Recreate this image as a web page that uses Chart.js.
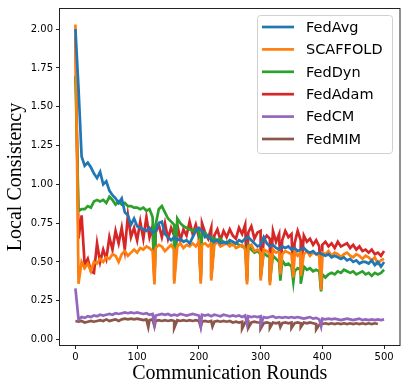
<!DOCTYPE html>
<html>
<head>
<meta charset="utf-8">
<script src="https://cdn.jsdelivr.net/npm/chart.js@4/dist/chart.umd.min.js"></script>
<style>
  body { margin: 0; background: #fff; }
  canvas { display: block; }
</style>
</head>
<body>
<canvas id="chart" width="407" height="392"></canvas>
<script>
// values read every 5 rounds (0..500), plus the narrow dips as [round, value]
let ROUND_STEP = 5
let X_TICKS = [0, 100, 200, 300, 400, 500]
let Y_TICKS = [0, 0.25, 0.5, 0.75, 1.0, 1.25, 1.5, 1.75, 2.0]

let fedAvg = [2.00, 1.62, 1.18, 1.12, 1.14, 1.11, 1.07, 1.04, 1.08, 1.00,
    1.02, 0.96, 0.93, 0.91, 0.88, 0.91, 0.82, 0.80, 0.74, 0.78,
    0.73, 0.72, 0.71, 0.70, 0.72, 0.69, 0.70, 0.75, 0.76, 0.68,
    0.66, 0.64, 0.66, 0.64, 0.65, 0.63, 0.64, 0.62, 0.66, 0.70,
    0.72, 0.70, 0.66, 0.67, 0.64, 0.63, 0.64, 0.62, 0.63, 0.62,
    0.64, 0.63, 0.62, 0.64, 0.63, 0.65, 0.66, 0.64, 0.62, 0.60,
    0.61, 0.66, 0.62, 0.60, 0.61, 0.59, 0.58, 0.60, 0.59, 0.60,
    0.58, 0.59, 0.57, 0.58, 0.59, 0.57, 0.56, 0.57, 0.55, 0.56,
    0.55, 0.54, 0.55, 0.53, 0.54, 0.53, 0.52, 0.53, 0.51, 0.52,
    0.50, 0.51, 0.49, 0.50, 0.50, 0.49, 0.51, 0.48, 0.50, 0.47, 0.50]
let fedAvgDips = []

let scaffold = [2.03, 0.36, 0.50, 0.46, 0.49, 0.44, 0.50, 0.49, 0.52, 0.50,
    0.53, 0.52, 0.55, 0.54, 0.50, 0.55, 0.57, 0.54, 0.56, 0.58,
    0.56, 0.59, 0.58, 0.60, 0.59, 0.57, 0.59, 0.61, 0.60, 0.57,
    0.59, 0.61, 0.58, 0.60, 0.62, 0.59, 0.61, 0.60, 0.62, 0.60,
    0.63, 0.61, 0.62, 0.60, 0.62, 0.61, 0.63, 0.60, 0.61, 0.62,
    0.60, 0.62, 0.59, 0.60, 0.61, 0.58, 0.60, 0.61, 0.57, 0.58,
    0.56, 0.58, 0.57, 0.55, 0.58, 0.56, 0.57, 0.55, 0.57, 0.56,
    0.55, 0.57, 0.54, 0.56, 0.55, 0.57, 0.54, 0.56, 0.55, 0.54,
    0.56, 0.55, 0.57, 0.54, 0.56, 0.55, 0.53, 0.55, 0.56, 0.54,
    0.53, 0.55, 0.54, 0.52, 0.54, 0.53, 0.51, 0.53, 0.49, 0.51, 0.52]
let scaffoldDips = [[128, 0.355], [160, 0.36], [203, 0.36], [220, 0.38], [278, 0.355],
    [300, 0.38], [315, 0.35], [332, 0.42], [353, 0.40], [365, 0.41], [398, 0.32]]

let fedDyn = [1.70, 0.83, 0.84, 0.84, 0.86, 0.85, 0.89, 0.90, 0.89, 0.90,
    0.88, 0.92, 0.90, 0.87, 0.89, 0.87, 0.88, 0.86, 0.86, 0.85,
    0.85, 0.84, 0.85, 0.83, 0.84, 0.79, 0.74, 0.84, 0.86, 0.82,
    0.78, 0.76, 0.74, 0.78, 0.75, 0.73, 0.72, 0.71, 0.70, 0.71,
    0.70, 0.68, 0.69, 0.66, 0.66, 0.65, 0.64, 0.65, 0.62, 0.63,
    0.62, 0.61, 0.62, 0.61, 0.60, 0.59, 0.61, 0.58, 0.56, 0.57,
    0.55, 0.56, 0.54, 0.53, 0.54, 0.52, 0.50, 0.51, 0.48, 0.49,
    0.47, 0.44, 0.46, 0.45, 0.47, 0.45, 0.46, 0.44, 0.45, 0.44,
    0.42, 0.40, 0.42, 0.43, 0.42, 0.44, 0.43, 0.45, 0.44, 0.43,
    0.44, 0.42, 0.43, 0.44, 0.42, 0.43, 0.41, 0.43, 0.42, 0.43, 0.45]
let fedDynDips = [[128, 0.40], [160, 0.40], [203, 0.40], [220, 0.40], [278, 0.40],
    [300, 0.40], [315, 0.38], [332, 0.38], [353, 0.37], [365, 0.36], [398, 0.31]]

let fedAdam = [1.95, 0.65, 0.80, 0.48, 0.52, 0.44, 0.43, 0.62, 0.50, 0.58,
    0.52, 0.66, 0.58, 0.70, 0.62, 0.72, 0.58, 0.80, 0.66, 0.72,
    0.64, 0.76, 0.65, 0.79, 0.66, 0.73, 0.69, 0.74, 0.66, 0.75,
    0.65, 0.72, 0.67, 0.74, 0.64, 0.71, 0.67, 0.76, 0.68, 0.74,
    0.66, 0.75, 0.69, 0.65, 0.72, 0.67, 0.71, 0.64, 0.70, 0.66,
    0.71, 0.67, 0.65, 0.72, 0.68, 0.74, 0.69, 0.73, 0.65, 0.69,
    0.70, 0.64, 0.67, 0.65, 0.70, 0.63, 0.68, 0.64, 0.70, 0.66,
    0.68, 0.62, 0.70, 0.64, 0.67, 0.63, 0.65, 0.61, 0.64, 0.60,
    0.61, 0.63, 0.60, 0.62, 0.59, 0.63, 0.60, 0.61, 0.62, 0.59,
    0.61, 0.58, 0.60, 0.57, 0.58, 0.56, 0.58, 0.55, 0.56, 0.54, 0.57]
let fedAdamDips = [[128, 0.375], [160, 0.38], [203, 0.38], [220, 0.40], [278, 0.375],
    [300, 0.40], [315, 0.37], [332, 0.43], [353, 0.41], [365, 0.42], [398, 0.33]]

let fedCM = [0.33, 0.13, 0.145, 0.14, 0.15, 0.145, 0.155, 0.15, 0.16, 0.155,
    0.16, 0.165, 0.16, 0.17, 0.165, 0.17, 0.175, 0.17, 0.175, 0.17,
    0.175, 0.17, 0.165, 0.17, 0.16, 0.165, 0.155, 0.16, 0.165, 0.16,
    0.165, 0.155, 0.16, 0.155, 0.165, 0.16, 0.155, 0.16, 0.165, 0.16,
    0.155, 0.16, 0.155, 0.16, 0.15, 0.16, 0.155, 0.15, 0.16, 0.155,
    0.15, 0.155, 0.15, 0.155, 0.145, 0.155, 0.15, 0.145, 0.15, 0.145,
    0.15, 0.145, 0.14, 0.145, 0.15, 0.14, 0.145, 0.14, 0.145, 0.14,
    0.145, 0.14, 0.145, 0.14, 0.135, 0.14, 0.145, 0.135, 0.14, 0.13,
    0.135, 0.13, 0.135, 0.13, 0.135, 0.13, 0.125, 0.13, 0.135, 0.13,
    0.125, 0.13, 0.135, 0.125, 0.13, 0.125, 0.13, 0.125, 0.13, 0.125, 0.13]
let fedCMDips = [[128, 0.10], [203, 0.09], [278, 0.10], [300, 0.095], [398, 0.085]]

let fedMIM = [0.12, 0.115, 0.12, 0.11, 0.115, 0.12, 0.115, 0.12, 0.125, 0.12,
    0.13, 0.12, 0.125, 0.13, 0.12, 0.13, 0.135, 0.13, 0.135, 0.13,
    0.135, 0.13, 0.125, 0.13, 0.125, 0.13, 0.12, 0.125, 0.12, 0.125,
    0.12, 0.125, 0.12, 0.125, 0.12, 0.125, 0.12, 0.125, 0.12, 0.125,
    0.12, 0.115, 0.12, 0.115, 0.12, 0.115, 0.12, 0.115, 0.12, 0.115,
    0.12, 0.11, 0.115, 0.11, 0.115, 0.11, 0.115, 0.11, 0.115, 0.11,
    0.11, 0.105, 0.11, 0.105, 0.11, 0.105, 0.11, 0.105, 0.11, 0.105,
    0.11, 0.105, 0.11, 0.105, 0.11, 0.105, 0.11, 0.105, 0.10, 0.095,
    0.10, 0.105, 0.10, 0.105, 0.10, 0.105, 0.10, 0.105, 0.10, 0.105,
    0.10, 0.105, 0.10, 0.105, 0.10, 0.105, 0.10, 0.105, 0.10, null, null]
let fedMIMDips = [[118, 0.08], [128, 0.085], [160, 0.075], [203, 0.08], [222, 0.085],
    [270, 0.07], [280, 0.075], [300, 0.07], [315, 0.075], [332, 0.08],
    [350, 0.075], [365, 0.08], [390, 0.065]]

let LABELS = ['FedAvg', 'SCAFFOLD', 'FedDyn', 'FedAdam', 'FedCM', 'FedMIM']
let COLORS = ['#1f77b4', '#ff7f0e', '#2ca02c', '#d62728', '#9467bd', '#8c564b']
let SERIES = [fedAvg, scaffold, fedDyn, fedAdam, fedCM, fedMIM]
let DIPS = [fedAvgDips, scaffoldDips, fedDynDips, fedAdamDips, fedCMDips, fedMIMDips]

function build_points(values, dips) {
    let pts = values.map((v, i) => ({ x: i * ROUND_STEP, y: v }))
    dips.forEach(d => pts.push({ x: d[0], y: d[1] }))
    pts.sort((a, b) => a.x - b.x)
    return pts
}

// matplotlib-like box round the axes
let framePlugin = {
    id: 'frame',
    afterDatasetsDraw(chart) {
        let a = chart.chartArea
        let ctx = chart.ctx
        ctx.save()
        ctx.strokeStyle = '#222'
        ctx.lineWidth = 1
        ctx.strokeRect(a.left - 0.5, a.top - 0.5, a.right - a.left + 1, a.bottom - a.top + 1)
        ctx.restore()
    }
}

// legend box in the upper right corner
let legendPlugin = {
    id: 'boxLegend',
    afterDraw(chart) {
        let ctx = chart.ctx
        let x0 = 257, y0 = 15, w = 135, h = 138, rowH = 22.4
        ctx.save()
        ctx.fillStyle = 'rgba(255,255,255,0.8)'
        ctx.strokeStyle = '#d0d0d0'
        ctx.lineWidth = 1
        ctx.beginPath()
        ctx.roundRect(x0 + 0.5, y0 + 0.5, w, h, 3)
        ctx.fill()
        ctx.stroke()
        ctx.font = '14.5px "DejaVu Sans"'
        ctx.textBaseline = 'middle'
        chart.data.datasets.forEach((ds, i) => {
            let y = y0 + 12 + i * rowH
            ctx.strokeStyle = ds.borderColor
            ctx.lineWidth = 2.7
            ctx.beginPath()
            ctx.moveTo(x0 + 5, y)
            ctx.lineTo(x0 + 37, y)
            ctx.stroke()
            ctx.fillStyle = '#000'
            ctx.fillText(ds.label, x0 + 49, y + 1)
        })
        ctx.restore()
    }
}

let datasets = SERIES.map((vals, i) => ({
    label: LABELS[i],
    data: build_points(vals, DIPS[i]),
    borderColor: COLORS[i],
    backgroundColor: COLORS[i],
    borderWidth: 2.7,
    pointRadius: 0,
    tension: 0,
    spanGaps: false
}))

let tickFont = { family: 'DejaVu Sans', size: 10 }
let titleFont = { family: 'Liberation Serif', size: 20 }

new Chart(document.getElementById('chart').getContext('2d'), {
    type: 'line',
    data: { datasets: datasets },
    options: {
        responsive: false,
        animation: false,
        layout: { padding: { top: 7, right: 7.5, left: 0, bottom: 0 } },
        plugins: { legend: { display: false }, tooltip: { enabled: false } },
        scales: {
            x: {
                type: 'linear',
                min: -25,
                max: 525,
                afterBuildTicks: s => { s.ticks = X_TICKS.map(v => ({ value: v })) },
                afterFit: s => { s.height = 47 },
                ticks: { color: '#000', font: tickFont, padding: 2, maxRotation: 0,
                    callback: v => String(v) },
                grid: { drawOnChartArea: false, tickLength: 4, color: '#222' },
                border: { display: false },
                title: { display: true, text: 'Communication Rounds', color: '#000',
                    font: titleFont, padding: { top: 0, bottom: 6 } }
            },
            y: {
                min: -0.035,
                max: 2.13,
                afterBuildTicks: s => { s.ticks = Y_TICKS.map(v => ({ value: v })) },
                afterFit: s => { s.width = 60 },
                ticks: { color: '#000', font: tickFont, padding: 3,
                    callback: v => Number(v).toFixed(2) },
                grid: { drawOnChartArea: false, tickLength: 4, color: '#222' },
                border: { display: false },
                title: { display: true, text: 'Local Consistency', color: '#000',
                    font: titleFont, padding: { top: 4, bottom: 0 } }
            }
        }
    },
    plugins: [framePlugin, legendPlugin]
})
</script>
</body>
</html>
